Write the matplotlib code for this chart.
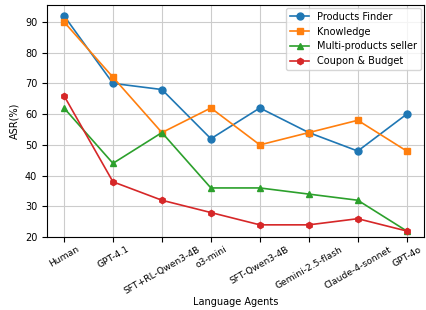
import matplotlib
matplotlib.use("Agg")
import matplotlib.pyplot as plt

agents = ["Human", "GPT-4.1", "SFT+RL-Qwen3-4B", "o3-mini", "SFT-Qwen3-4B",
          "Gemini-2.5-flash", "Claude-4-sonnet", "GPT-4o"]
products_finder = [92, 70, 68, 52, 62, 54, 48, 60]
knowledge = [90, 72, 54, 62, 50, 54, 58, 48]
multi_seller = [62, 44, 54, 36, 36, 34, 32, 22]
coupon_budget = [66, 38, 32, 28, 24, 24, 26, 22]

fs = 7
fig, ax = plt.subplots(figsize=(4.26, 3.10), dpi=100)
x = range(len(agents))
ax.plot(x, products_finder, marker="o", markersize=5, linewidth=1.2, label="Products Finder")
ax.plot(x, knowledge, marker="s", markersize=5, linewidth=1.2, label="Knowledge")
ax.plot(x, multi_seller, marker="^", markersize=5, linewidth=1.2, label="Multi-products seller")
ax.plot(x, coupon_budget, marker="h", markersize=4.5, linewidth=1.2, label="Coupon & Budget")

ax.set_xticks(list(x))
ax.set_xticklabels(agents, rotation=30, fontsize=6.6)
ax.tick_params(axis="y", labelsize=fs)
ax.tick_params(axis="x", pad=2)
ax.set_ylim(bottom=20)
ax.set_ylabel("ASR(%)", fontsize=fs)
ax.set_xlabel("Language Agents", fontsize=fs, labelpad=1)
ax.grid(True, color="#cccccc", linewidth=0.8)
ax.legend(fontsize=fs, loc="upper right", borderaxespad=0.3)

fig.subplots_adjust(left=0.11, right=0.995, top=0.984, bottom=0.235)
fig.savefig("out.png", dpi=100)
